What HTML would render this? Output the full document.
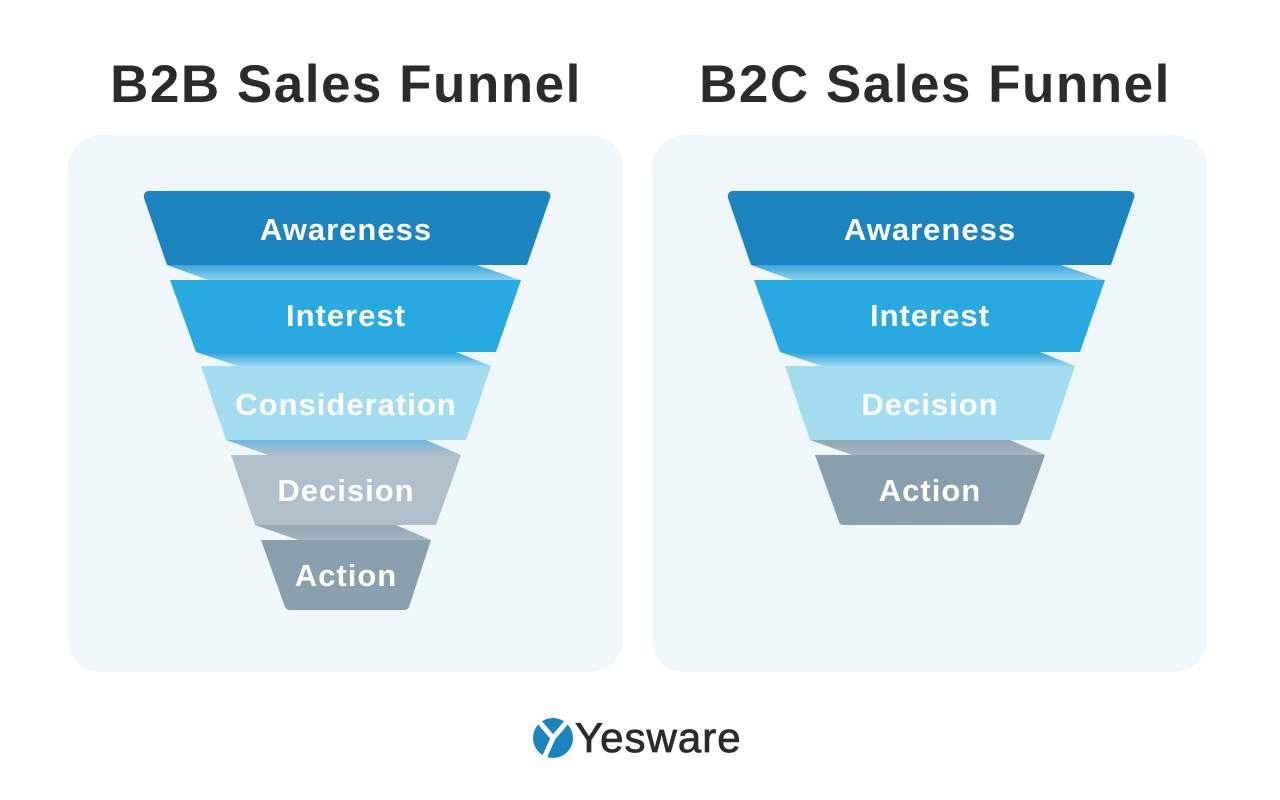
<!DOCTYPE html>
<html><head><meta charset="utf-8"><style>
html,body{margin:0;padding:0;background:#fff;}
svg{display:block;}
text{font-family:"Liberation Sans",sans-serif;font-weight:bold;}
</style></head><body>
<svg width="1280" height="800" viewBox="0 0 1280 800" xmlns="http://www.w3.org/2000/svg">
<defs>
<linearGradient id="gb" x1="0" y1="0" x2="0" y2="1"><stop offset="0" stop-color="#3ba6dd"/><stop offset="1" stop-color="#8fd0ef"/></linearGradient>
<linearGradient id="gb2" x1="0" y1="0" x2="0" y2="1"><stop offset="0" stop-color="#2aa3de"/><stop offset="1" stop-color="#9ad6f0"/></linearGradient>
<linearGradient id="gg" x1="0" y1="0" x2="0" y2="1"><stop offset="0" stop-color="#6fb9e2"/><stop offset="1" stop-color="#aebfcb"/></linearGradient>
<linearGradient id="gg2" x1="0" y1="0" x2="0" y2="1"><stop offset="0" stop-color="#93a6b3"/><stop offset="1" stop-color="#a5b6c2"/></linearGradient>
</defs>
<rect width="1280" height="800" fill="#fff"/>
<text x="346" y="102" font-size="53" fill="#2b2b2b" text-anchor="middle" letter-spacing="1.5">B2B Sales Funnel</text>
<text x="935" y="102" font-size="53" fill="#2b2b2b" text-anchor="middle" letter-spacing="1.5">B2C Sales Funnel</text>
<rect x="68" y="135" width="555" height="537" rx="32" fill="#f0f7fa"/>
<rect x="652" y="135" width="555" height="537" rx="32" fill="#f0f7fa"/>

<g id="L">
<polygon points="167,265 477,265 520,280 208,280" fill="url(#gb)"/>
<polygon points="196,352 456,352 491,366 238,366" fill="url(#gb2)"/>
<polygon points="226,440 426,440 461,455 268,455" fill="url(#gg)"/>
<polygon points="255,525 396,525 431,540 298,540" fill="url(#gg2)"/>
<path d="M148,191 L546,191 Q552,193 550,198 L527,265 L167,265 L144,198 Q143,192 148,191Z" fill="#1b83be"/>
<polygon points="170,280 521,280 496,352 196,352" fill="#29a9e1"/>
<polygon points="201,366 491,366 466,440 226,440" fill="#a3dbf1"/>
<polygon points="231,455 461,455 436,525 255,525" fill="#afc0cc"/>
<path d="M261,540 L431,540 L409,607 Q408,610 404,610 L290,610 Q286,610 285,607Z" fill="#889fad"/>
<text x="346" y="240" font-size="31" fill="#fff" text-anchor="middle" letter-spacing="1">Awareness</text>
<text x="346" y="326" font-size="31" fill="#fff" text-anchor="middle" letter-spacing="1">Interest</text>
<text x="346" y="415" font-size="31" fill="#fff" text-anchor="middle" letter-spacing="1">Consideration</text>
<text x="346" y="501" font-size="31" fill="#fff" text-anchor="middle" letter-spacing="1">Decision</text>
<text x="346" y="586" font-size="31" fill="#fff" text-anchor="middle" letter-spacing="1">Action</text>
</g>

<g transform="translate(584,0)">
<polygon points="167,265 477,265 520,280 208,280" fill="url(#gb)"/>
<polygon points="196,352 456,352 491,366 238,366" fill="url(#gb2)"/>
<polygon points="226,440 426,440 461,455 268,455" fill="url(#gg2)"/>
<path d="M148,191 L546,191 Q552,193 550,198 L527,265 L167,265 L144,198 Q143,192 148,191Z" fill="#1b83be"/>
<polygon points="170,280 521,280 496,352 196,352" fill="#29a9e1"/>
<polygon points="201,366 491,366 466,440 226,440" fill="#a3dbf1"/>
<path d="M231,455 L461,455 L437,522 Q436,525 432,525 L260,525 Q256,525 255,522Z" fill="#889fad"/>
<text x="346" y="240" font-size="31" fill="#fff" text-anchor="middle" letter-spacing="1">Awareness</text>
<text x="346" y="326" font-size="31" fill="#fff" text-anchor="middle" letter-spacing="1">Interest</text>
<text x="346" y="415" font-size="31" fill="#fff" text-anchor="middle" letter-spacing="1">Decision</text>
<text x="346" y="501" font-size="31" fill="#fff" text-anchor="middle" letter-spacing="1">Action</text>
</g>

<circle cx="553" cy="738" r="20" fill="#1b83be"/>
<path d="M541,724 L553,738 L565,724 M553,738 L545,756" stroke="#fff" stroke-width="5" fill="none" stroke-linecap="round"/>
<text x="575" y="752" font-size="42" fill="#2b2b2b" style="font-weight:normal" letter-spacing="1" stroke="#2b2b2b" stroke-width="0.8">Yesware</text>
</svg>
</body></html>
